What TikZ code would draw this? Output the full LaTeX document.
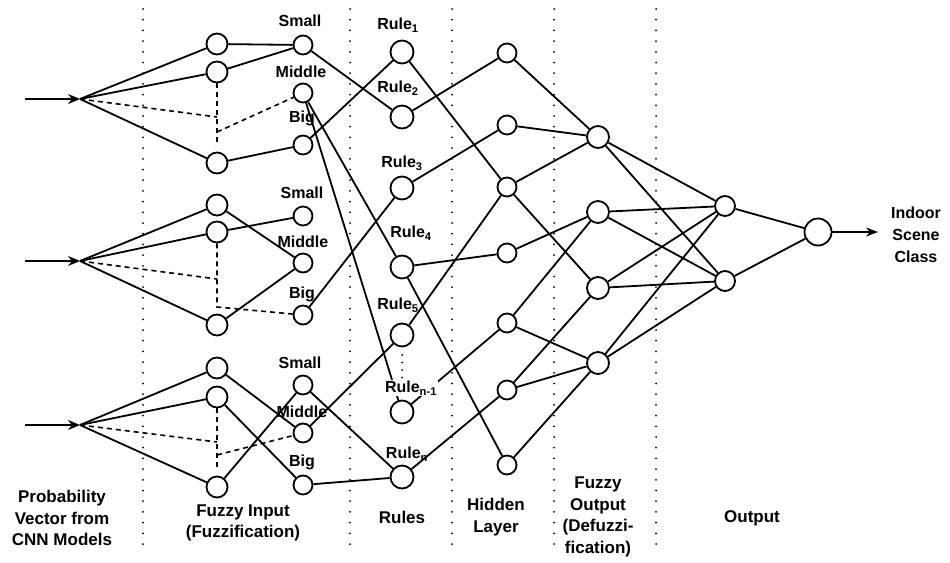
\documentclass[tikz,border=0pt]{standalone}
\usepackage{fontspec}
\setmainfont{Liberation Sans}
\usetikzlibrary{arrows.meta}
\begin{document}
\begin{tikzpicture}[x=1pt,y=-1pt,
  nd/.style={circle,draw,line width=1.8pt,fill=white,inner sep=0pt,minimum size=#1},
  sepline/.style={line width=2pt,line cap=round,dash pattern=on 0pt off 10.7pt},
  ed/.style={line width=1.8pt},
  dsh/.style={line width=1.6pt,dash pattern=on 5pt off 4pt},
  lbl/.style={font=\bfseries\fontsize{16}{18}\selectfont,inner sep=0pt},
  blbl/.style={font=\bfseries\fontsize{17}{21.5}\selectfont,align=center,inner sep=0pt},
  inarr/.style={line width=2.4pt,-{Stealth[length=12pt,width=10pt]}},
  outarr/.style={line width=2pt,-{Stealth[length=12pt,width=9pt]}}
]
\useasboundingbox (0,0) rectangle (950,562);
% separators
\foreach \x/\n in {143/s1,350/s2,452/s3,554/s4,656/s5}{
  \coordinate (\n t) at (\x,9);
  \coordinate (\n b) at (\x,545);
  \draw[sepline] (\n t) -- (\n b);
}
% input coordinates
\coordinate (st1) at (25,99);  \coordinate (in1) at (80,99);
\coordinate (st2) at (25,261); \coordinate (in2) at (80,261);
\coordinate (st3) at (25,425); \coordinate (in3) at (80,425);
% group 1
\node[nd=21pt] (a1) at (217,44) {};
\node[nd=21pt] (a2) at (217,72) {};
\node[nd=21pt] (a3) at (217,163) {};
\node[nd=19pt] (m1s) at (303,45) {};
\node[nd=19pt] (m1m) at (303,93) {};
\node[nd=19pt] (m1b) at (303,145) {};
% group 2
\node[nd=21pt] (b1) at (217,205) {};
\node[nd=21pt] (b2) at (217,232) {};
\node[nd=21pt] (b3) at (217,325) {};
\node[nd=19pt] (m2s) at (303,216) {};
\node[nd=19pt] (m2m) at (303,263) {};
\node[nd=19pt] (m2b) at (303,315) {};
% group 3
\node[nd=21pt] (c1) at (217,368) {};
\node[nd=21pt] (c2) at (217,397) {};
\node[nd=21pt] (c3) at (217,487) {};
\node[nd=19pt] (m3s) at (303,385) {};
\node[nd=19pt] (m3m) at (303,433) {};
\node[nd=19pt] (m3b) at (303,485) {};
% rules
\node[nd=23pt] (r1) at (402,52) {};
\node[nd=23pt] (r2) at (402,117) {};
\node[nd=23pt] (r3) at (402,188) {};
\node[nd=23pt] (r4) at (402,267) {};
\node[nd=23pt] (r5) at (402,335) {};
\node[nd=23pt] (rn1) at (402,412) {};
\node[nd=23pt] (rn) at (402,477) {};
% hidden
\node[nd=19pt] (h1) at (507,53) {};
\node[nd=19pt] (h2) at (507,125) {};
\node[nd=19pt] (h3) at (507,187) {};
\node[nd=19pt] (h4) at (507,253) {};
\node[nd=19pt] (h5) at (507,323) {};
\node[nd=19pt] (h6) at (507,390) {};
\node[nd=19pt] (h7) at (507,465) {};
% fuzzy output
\node[nd=22pt] (f1) at (598,137) {};
\node[nd=22pt] (f2) at (598,212) {};
\node[nd=22pt] (f3) at (598,288) {};
\node[nd=22pt] (f4) at (598,363) {};
% output
\node[nd=20pt] (o1) at (725,206) {};
\node[nd=20pt] (o2) at (725,281) {};
\node[nd=27pt] (fin) at (818,232) {};
\coordinate (oend) at (878,232);
% dashed joins
\coordinate (j1a) at (217,117); \coordinate (j1b) at (217,132); \coordinate (j1e) at (217,145);
\coordinate (j2a) at (217,279); \coordinate (j2b) at (217,307);
\coordinate (j3a) at (217,442); \coordinate (j3b) at (217,455); \coordinate (j3e) at (217,468);
% input arrows
\draw[inarr] (st1) -- (in1);
\draw[inarr] (st2) -- (in2);
\draw[inarr] (st3) -- (in3);
% group 1 edges
\draw[ed] (in1) -- (a1); \draw[ed] (in1) -- (a2); \draw[ed] (in1) -- (a3);
\draw[ed] (a1) -- (m1s); \draw[ed] (a2) -- (m1s); \draw[ed] (a3) -- (m1b);
\draw[dsh] (in1) -- (j1a); \draw[dsh] (a2) -- (j1e); \draw[dsh] (j1b) -- (m1m);
% group 2 edges
\draw[ed] (in2) -- (b1); \draw[ed] (in2) -- (b2); \draw[ed] (in2) -- (b3);
\draw[ed] (b1) -- (m2m); \draw[ed] (b2) -- (m2s); \draw[ed] (b3) -- (m2m);
\draw[dsh] (in2) -- (j2a); \draw[dsh] (b2) -- (j2b) -- (m2b);
% group 3 edges
\draw[ed] (in3) -- (c1); \draw[ed] (in3) -- (c2); \draw[ed] (in3) -- (c3);
\draw[ed] (c1) -- (m3m); \draw[ed] (c2) -- (m3b); \draw[ed] (c3) -- (m3s);
\draw[dsh] (in3) -- (j3a); \draw[dsh] (c2) -- (j3e); \draw[dsh] (j3b) -- (m3m);
% membership -> rules
\draw[ed] (m1s) -- (r2); \draw[ed] (m1b) -- (r1);
\draw[ed] (m1m) -- (r4); \draw[ed] (m1m) -- (rn1);
\draw[ed] (m2b) -- (r3);
\draw[ed] (m3s) -- (rn); \draw[ed] (m3m) -- (r5); \draw[ed] (m3b) -- (rn);
% rules dots
\coordinate (rd1) at (402,355); \coordinate (rd2) at (402,378);
\draw[line width=2pt,line cap=round,dash pattern=on 0pt off 7.5pt] (rd1) -- (rd2);
% rules -> hidden
\draw[ed] (r1) -- (h3); \draw[ed] (r2) -- (h1); \draw[ed] (r3) -- (h2);
\draw[ed] (r4) -- (h4); \draw[ed] (r4) -- (h7); \draw[ed] (r5) -- (h3);
\draw[ed] (rn1) -- (h5); \draw[ed] (rn) -- (h6);
% hidden -> fuzzy out
\draw[ed] (h1) -- (f1); \draw[ed] (h2) -- (f1); \draw[ed] (h3) -- (f1);
\draw[ed] (h3) -- (f3); \draw[ed] (h4) -- (f2); \draw[ed] (h5) -- (f2);
\draw[ed] (h5) -- (f4); \draw[ed] (h6) -- (f3); \draw[ed] (h6) -- (f4);
\draw[ed] (h7) -- (f4);
% fuzzy out -> output
\foreach \f in {f1,f2,f3,f4}{
  \draw[ed] (\f) -- (o1); \draw[ed] (\f) -- (o2);
}
\draw[ed] (o1) -- (fin); \draw[ed] (o2) -- (fin);
\draw[outarr] (fin) -- (oend);
% labels
\node[lbl] (l1s) at (300,21) {Small};
\node[lbl] (l1m) at (301,72) {Middle};
\node[lbl] (l1b) at (302,118) {Big};
\node[lbl] (l2s) at (302,193) {Small};
\node[lbl] (l2m) at (303,242) {Middle};
\node[lbl] (l2b) at (302,294) {Big};
\node[lbl] (l3s) at (300,363) {Small};
\node[lbl] (l3m) at (302,412) {Middle};
\node[lbl] (l3b) at (302,462) {Big};
\node[lbl] (lr1) at (398,25) {Rule\textsubscript{1}};
\node[lbl] (lr2) at (398,88) {Rule\textsubscript{2}};
\node[lbl] (lr3) at (402,163) {Rule\textsubscript{3}};
\node[lbl] (lr4) at (411,233) {Rule\textsubscript{4}};
\node[lbl] (lr5) at (398,305) {Rule\textsubscript{5}};
\node[lbl,fill=white,inner sep=1pt] (lrn1) at (411,388) {Rule\textsubscript{n-1}};
\node[lbl] (lrn) at (407,454) {Rule\textsubscript{n}};
\node[blbl] (bl1) at (62,518) {Probability\\Vector from\\CNN Models};
\node[blbl] (bl2) at (243,523) {Fuzzy Input\\(Fuzzification)};
\node[blbl] (bl3) at (402,517) {Rules};
\node[blbl] (bl4) at (496,517) {Hidden\\Layer};
\node[blbl] (bl5) at (598,517) {Fuzzy\\Output\\(Defuzzi-\\fication)};
\node[blbl] (bl6) at (752,518) {Output};
\node[blbl,font=\bfseries\fontsize{16}{22}\selectfont] (bl7) at (916,235) {Indoor\\Scene\\Class};
\end{tikzpicture}
\end{document}
